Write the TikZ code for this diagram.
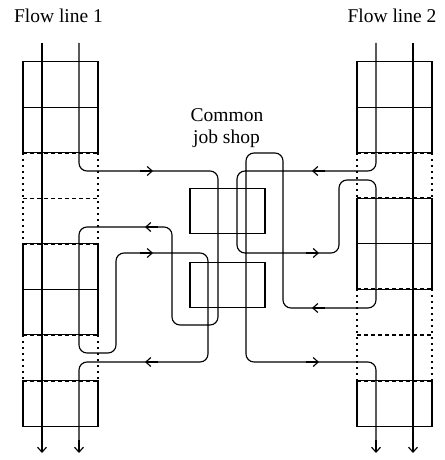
\documentclass[tikz,border=0pt]{standalone}
\usepackage{fontspec}
\setmainfont{Liberation Serif}
\usetikzlibrary{arrows.meta}
\begin{document}
\begin{tikzpicture}[x=1pt,y=-1pt,
  lw/.style={line width=1.15pt},
  flow/.style={lw, rounded corners=8pt},
  tipend/.style={-{Straight Barb[length=5pt,width=9pt]}},
  cell/.style={draw, lw, minimum width=75pt, minimum height=45.5pt, inner sep=0pt, outer sep=0pt},
  slotside/.style={lw, dash pattern=on 2pt off 4pt},
  slotsep/.style={lw, dash pattern=on 4pt off 3pt},
  lbl/.style={font=\fontsize{19.5}{22}\selectfont, anchor=base, inner sep=0pt}]
\useasboundingbox (0,0) rectangle (444,460);
% labels
\node[lbl] (fl1) at (58.5,23) {Flow line 1};
\node[lbl] (fl2) at (392,23) {Flow line 2};
\node[lbl] (cjs1) at (227,121) {Common};
\node[lbl] (cjs2) at (226.5,143) {job shop};
% left column solid cells
\node[cell] (L1) at (60.5,84.5) {};
\node[cell] (L2) at (60.5,130) {};
\node[cell] (L5) at (60.5,266.5) {};
\node[cell] (L6) at (60.5,312) {};
\node[cell] (L8) at (60.5,403.5) {};
% right column solid cells
\node[cell] (R1) at (394.5,84.5) {};
\node[cell] (R2) at (394.5,130) {};
\node[cell] (R4) at (394.5,221) {};
\node[cell] (R5) at (394.5,266.5) {};
\node[cell] (R8) at (394.5,403.5) {};
% empty slots, left
\draw[slotside] (23,153) -- (23,244) (98,153) -- (98,244);
\draw[slotsep] (23,153) -- (98,153) (23,198.5) -- (98,198.5) (23,244) -- (98,244);
\draw[slotside] (23,335) -- (23,381) (98,335) -- (98,381);
\draw[slotsep] (23,335) -- (98,335) (23,381) -- (98,381);
% empty slots, right
\draw[slotside] (357,153) -- (357,198) (432,153) -- (432,198);
\draw[slotsep] (357,153) -- (432,153) (357,198) -- (432,198);
\draw[slotside] (357,289) -- (357,381) (432,289) -- (432,381);
\draw[slotsep] (357,289) -- (432,289) (357,335) -- (432,335) (357,381) -- (432,381);
% common job shop machines
\node[cell] (M1) at (227.5,211) {};
\node[cell] (M2) at (227.5,285) {};
% outer flow lines
\coordinate (a1s) at (42,43);
\coordinate (a1e) at (42,453);
\coordinate (a2s) at (413,43);
\coordinate (a2e) at (413,453);
\draw[lw, tipend] (a1s) -- (a1e);
\draw[lw, tipend] (a2s) -- (a2e);
% inner flow line 1
\coordinate (b1s) at (79,43);
\coordinate (b1e) at (79,453);
\draw[flow] (b1s) -- (79,171) -- (218,171) -- (218,325) -- (172,325) -- (172,227)
  -- (79,227) -- (79,353) -- (116,353) -- (116,253) -- (208,253) -- (208,362)
  -- (79,362) -- (79,445);
\draw[lw, tipend] (79,440) -- (b1e);
% inner flow line 2
\coordinate (b2s) at (376,43);
\coordinate (b2e) at (376,453);
\draw[flow] (b2s) -- (376,171) -- (237,171) -- (237,253) -- (339,253) -- (339,180)
  -- (376,180) -- (376,308) -- (283,308) -- (283,153) -- (246,153) -- (246,362)
  -- (376,362) -- (376,445);
\draw[lw, tipend] (376,440) -- (b2e);
% direction marks
\draw[lw, tipend] (140,171) -- (153,171);
\draw[lw, tipend] (158,227) -- (145,227);
\draw[lw, tipend] (140,253) -- (153,253);
\draw[lw, tipend] (158,362) -- (145,362);
\draw[lw, tipend] (325,171) -- (312,171);
\draw[lw, tipend] (306,253) -- (319,253);
\draw[lw, tipend] (325,308) -- (312,308);
\draw[lw, tipend] (306,362) -- (319,362);
\end{tikzpicture}
\end{document}
